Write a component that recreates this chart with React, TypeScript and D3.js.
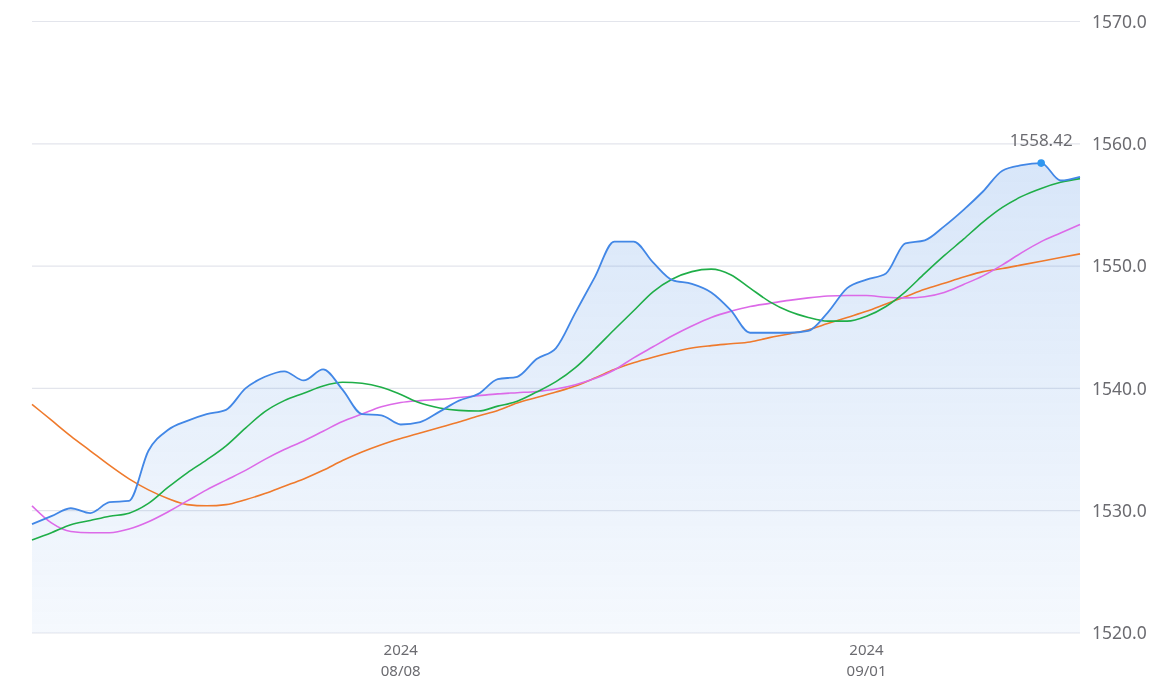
import React from "react";
import * as d3 from "d3";

const startDate = "2024-07-20";
const dayCount = 55;
const tickDates = ["2024-08-08", "2024-09-01"];
const yTicks = [1520, 1530, 1540, 1550, 1560, 1570];

const price = [
  1528.9, 1529.55, 1530.2, 1529.8, 1530.7, 1530.8, 1534.9, 1536.6, 1537.35, 1537.9,
  1538.25, 1540.0, 1540.95, 1541.4, 1540.65, 1541.55, 1539.9, 1537.9, 1537.8, 1537.05,
  1537.25, 1538.1, 1539.0, 1539.55, 1540.75, 1540.95, 1542.4, 1543.3, 1546.2, 1549.1,
  1552.0, 1552.0, 1550.3, 1548.85, 1548.55, 1547.85, 1546.4, 1544.55, 1544.55, 1544.55,
  1544.7, 1546.2, 1548.2, 1548.9, 1549.4, 1551.85, 1552.1, 1553.25, 1554.6, 1556.1,
  1557.8, 1558.25, 1558.42, 1557.0, 1557.3,
];

const maGreen = [
  1527.6, 1528.2, 1528.85, 1529.2, 1529.55, 1529.8, 1530.6, 1531.9, 1533.1, 1534.15,
  1535.3, 1536.75, 1538.1, 1539.0, 1539.6, 1540.2, 1540.5, 1540.42, 1540.1, 1539.5,
  1538.8, 1538.4, 1538.2, 1538.15, 1538.55, 1538.95, 1539.7, 1540.55, 1541.7, 1543.2,
  1544.8, 1546.35, 1547.9, 1548.95, 1549.55, 1549.75, 1549.3, 1548.2, 1547.1, 1546.3,
  1545.8, 1545.5, 1545.5, 1545.9, 1546.7, 1547.9, 1549.4, 1550.85, 1552.2, 1553.6,
  1554.8, 1555.7, 1556.35, 1556.85, 1557.15,
];

const maMagenta = [
  1530.4, 1529.0, 1528.3, 1528.2, 1528.2, 1528.5, 1529.1, 1529.9, 1530.8, 1531.7,
  1532.5, 1533.3, 1534.2, 1535.0, 1535.7, 1536.5, 1537.3, 1537.9, 1538.5, 1538.85,
  1539.0, 1539.1, 1539.25, 1539.4, 1539.55, 1539.65, 1539.75, 1539.95, 1540.3, 1540.8,
  1541.5, 1542.5, 1543.4, 1544.3, 1545.1, 1545.8, 1546.3, 1546.7, 1546.95, 1547.2,
  1547.4, 1547.55, 1547.6, 1547.6, 1547.45, 1547.4, 1547.5, 1547.85, 1548.5, 1549.2,
  1550.1, 1551.1, 1552.0, 1552.7, 1553.4,
];

const maOrange = [
  1538.7, 1537.4, 1536.1, 1534.9, 1533.7, 1532.6, 1531.7, 1531.0, 1530.5, 1530.4,
  1530.5, 1530.9, 1531.4, 1532.0, 1532.6, 1533.3, 1534.1, 1534.8, 1535.4, 1535.9,
  1536.35, 1536.8, 1537.25, 1537.75, 1538.2, 1538.8, 1539.25, 1539.7, 1540.2, 1540.85,
  1541.55, 1542.1, 1542.55, 1542.95, 1543.3, 1543.5, 1543.65, 1543.8, 1544.15, 1544.45,
  1544.8, 1545.3, 1545.8, 1546.3, 1546.9, 1547.5, 1548.1, 1548.6, 1549.1, 1549.55,
  1549.8, 1550.1, 1550.4, 1550.7, 1551.0,
];

const W = 1170;
const H = 697;
const left = 32;
const right = 1080;
const top = 21.5;
const bottom = 633;
const FONT = "'Noto Sans', 'Open Sans', sans-serif";

const parse = d3.timeParse("%Y-%m-%d");
const dates = d3.timeDay.range(parse(startDate)!, d3.timeDay.offset(parse(startDate)!, dayCount));

export default function App() {
  const x = d3.scaleTime().domain([dates[0], dates[dates.length - 1]]).range([left, right]);
  const y = d3.scaleLinear().domain([1520, 1570]).range([bottom, top]);

  const mk = (vals: number[]) =>
    d3
      .line<number>()
      .x((_, i) => x(dates[i]))
      .y((v) => y(v))
      .curve(d3.curveMonotoneX)(vals) || "";

  const area =
    d3
      .area<number>()
      .x((_, i) => x(dates[i]))
      .y0(y(1520))
      .y1((v) => y(v))
      .curve(d3.curveMonotoneX)(price) || "";

  const maxIdx = d3.maxIndex(price);
  const fmtY = d3.format(".1f");
  const fmtYear = d3.timeFormat("%Y");
  const fmtMD = d3.timeFormat("%m/%d");

  return (
    <div style={{ position: "fixed", left: 0, top: 0 }}>
      <svg width={W} height={H} style={{ display: "block", fontFamily: FONT }}>
        <defs>
          <linearGradient id="areaGrad" x1="0" y1="0" x2="0" y2="1">
            <stop offset="0%" stopColor="#3b82e0" stopOpacity={0.2} />
            <stop offset="100%" stopColor="#3b82e0" stopOpacity={0.05} />
          </linearGradient>
        </defs>
        {yTicks.map((t) => (
          <line key={t} x1={left} x2={right} y1={y(t)} y2={y(t)} stroke="#e3e5ec" strokeWidth={1.2} />
        ))}
        <path d={area} fill="url(#areaGrad)" />
        <path d={mk(maOrange)} fill="none" stroke="#ef7a2c" strokeWidth={1.6} />
        <path d={mk(maMagenta)} fill="none" stroke="#dc6ae8" strokeWidth={1.6} />
        <path d={mk(maGreen)} fill="none" stroke="#1fae48" strokeWidth={1.6} />
        <path d={mk(price)} fill="none" stroke="#4287e6" strokeWidth={1.8} />
        <circle cx={x(dates[maxIdx])} cy={y(price[maxIdx])} r={3.8} fill="#2f97f0" />
        <text
          x={x(dates[maxIdx])}
          y={y(price[maxIdx]) - 17}
          textAnchor="middle"
          fontSize={17}
          fill="#6b6b70"
        >
          {price[maxIdx].toFixed(2)}
        </text>
        {yTicks.map((t) => (
          <text key={t} x={1092} y={y(t)} dy="0.35em" fontSize={17.5} fill="#6b6b70">
            {fmtY(t)}
          </text>
        ))}
        {tickDates.map((s) => {
          const d = parse(s)!;
          return (
            <g key={s} transform={`translate(${x(d)},0)`}>
              <text y={655} textAnchor="middle" fontSize={15} fill="#6b6b70">
                {fmtYear(d)}
              </text>
              <text y={676} textAnchor="middle" fontSize={15} fill="#6b6b70">
                {fmtMD(d)}
              </text>
            </g>
          );
        })}
      </svg>
    </div>
  );
}
